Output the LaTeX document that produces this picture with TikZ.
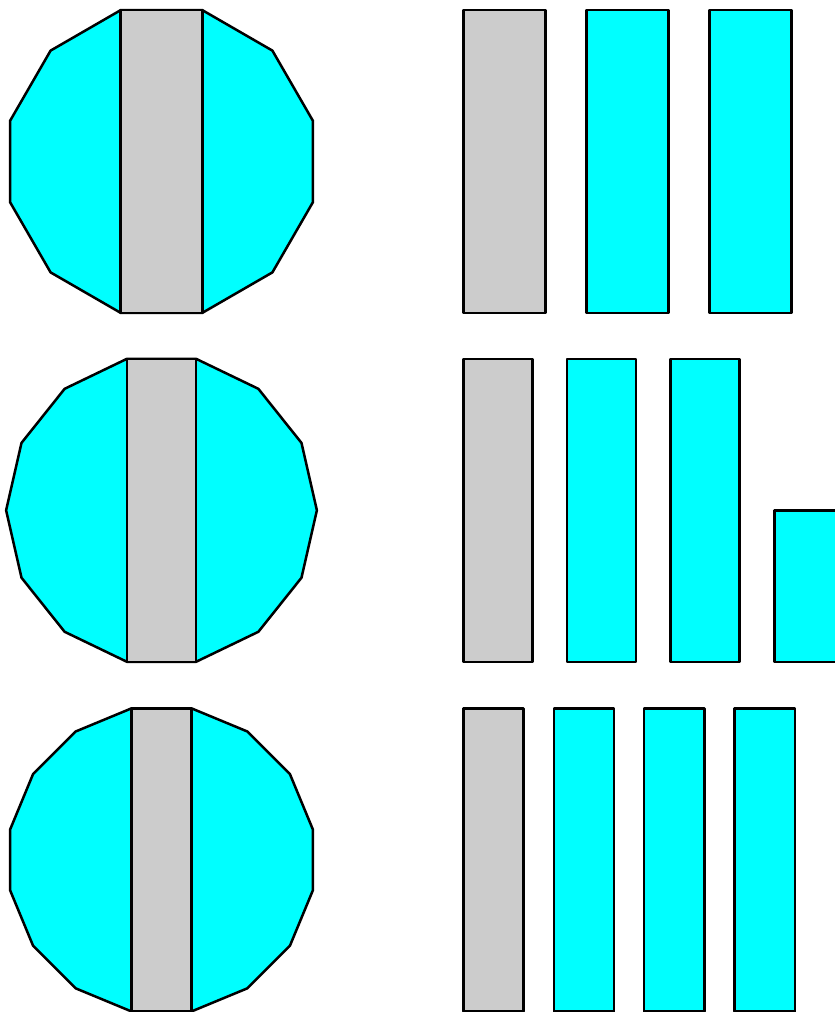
\documentclass[tikz,border=0pt]{standalone}
\definecolor{cutcyan}{HTML}{00FFFF}
\definecolor{cutgray}{HTML}{CCCCCC}

\begin{document}
\begin{tikzpicture}[x=1pt, y=-1pt,
  edge/.style={draw=black, line width=2.5pt, line join=round},
  piece/.style={edge, fill=cutcyan},
  core/.style={edge, fill=cutgray}]
\useasboundingbox (0,0) rectangle (835,1012);
\clip (0,0) rectangle (835,1012);
% one row per polygon: sides / centre y / strip width / cyan pieces
\foreach \n/\cy/\w/\m in {12/161.5/82/2, 14/510.3/69.1/2, 16/859.9/60.3/3}{
  \pgfmathsetmacro{\R}{151.5/cos(180/\n)}
  \pgfmathsetmacro{\h}{\w/2}
  % polygon with the strip over it
  \begin{scope}[shift={(161.5,\cy)}]
    \draw[piece] (90+180/\n:\R) \foreach \k in {1,...,\n}{ -- (90+180/\n+\k*360/\n:\R)} -- cycle;
    \draw[core] (-\h,-151.5) rectangle (\h,151.5);
  \end{scope}
  % the pieces laid out
  \draw[core] (463.3,\cy-151.5) rectangle ++(\w,303);
  \foreach \j in {1,...,\m}
    \draw[piece] (463.3+1.5*\j*\w,\cy-151.5) rectangle ++(\w,303);
}
% half piece in the middle row
\draw[piece] (463.3+4.5*69.1,510.3) rectangle ++(69.1,151.5);
\end{tikzpicture}
\end{document}
